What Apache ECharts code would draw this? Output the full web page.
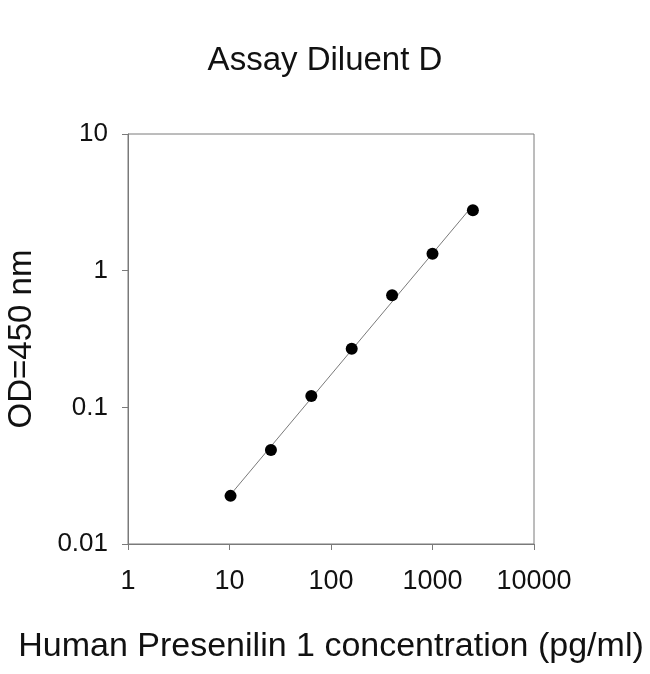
<!DOCTYPE html>
<html>
<head>
<meta charset="utf-8">
<script src="https://cdn.jsdelivr.net/npm/echarts@6/dist/echarts.min.js"></script>
<style>
  html, body { margin: 0; padding: 0; background: #fff; }
  #chart { width: 650px; height: 674px; }
</style>
</head>
<body>
<div id="chart"></div>
<script>
// concentration (pg/ml) and OD at 450 nm
var conc = [10.24, 25.6, 64, 160, 400, 1000, 2500];
var od = [0.0225, 0.0488, 0.121, 0.268, 0.662, 1.33, 2.77];
var xTicks = [1, 10, 100, 1000, 10000];
var yTicks = [0.01, 0.1, 1, 10];

// straight-line fit in log-log space
var lx = conc.map(Math.log10), ly = od.map(Math.log10);
var n = lx.length, mx = 0, my = 0;
for (var i = 0; i < n; i++) { mx += lx[i] / n; my += ly[i] / n; }
var sxy = 0, sxx = 0;
for (var i = 0; i < n; i++) { sxy += (lx[i] - mx) * (ly[i] - my); sxx += (lx[i] - mx) * (lx[i] - mx); }
var slope = sxy / sxx, icpt = my - slope * mx;
var fitLine = [conc[0], conc[n - 1]].map(function (x) {
    return [x, Math.pow(10, icpt + slope * Math.log10(x))];
});

var font = 'Liberation Sans, Arial, sans-serif';
var fmt = function (v) {
    var t = xTicks.concat(yTicks);
    for (var k = 0; k < t.length; k++) {
        if (Math.abs(v - t[k]) / t[k] < 1e-6) return String(t[k]);
    }
    return '';
};

var option = {
    backgroundColor: '#fff',
    animation: false,
    title: {
        text: 'Assay Diluent D',
        left: 'center',
        top: 39,
        textStyle: { fontFamily: font, fontSize: 33, fontWeight: 'normal', color: '#111' }
    },
    grid: {
        left: 128, right: 116, top: 134, bottom: 130,
        outerBoundsMode: 'none',
        containLabel: false,
        show: true, borderColor: '#7a7a7a', borderWidth: 1
    },
    xAxis: {
        type: 'log', logBase: 10, min: 1, max: 10000,
        name: 'Human Presenilin 1 concentration (pg/ml)',
        nameLocation: 'middle', nameGap: 86,
        nameTextStyle: { fontFamily: font, fontSize: 34, color: '#111' },
        axisLine: { lineStyle: { color: '#7a7a7a' } },
        axisTick: { show: true, length: 6, lineStyle: { color: '#7a7a7a' } },
        minorTick: { show: false },
        splitLine: { show: false },
        axisLabel: { fontFamily: font, fontSize: 27, color: '#111', margin: 24, formatter: fmt }
    },
    yAxis: {
        type: 'log', logBase: 10, min: 0.01, max: 10,
        name: 'OD=450 nm',
        nameLocation: 'middle', nameGap: 90,
        nameTextStyle: { fontFamily: font, fontSize: 33, color: '#111' },
        axisLine: { show: true, lineStyle: { color: '#7a7a7a' } },
        axisTick: { show: true, length: 6, lineStyle: { color: '#7a7a7a' } },
        minorTick: { show: false },
        splitLine: { show: false },
        axisLabel: { fontFamily: font, fontSize: 26, color: '#111', margin: 20, formatter: fmt }
    },
    series: [
        {
            type: 'line',
            data: fitLine,
            symbol: 'none',
            lineStyle: { color: '#7a7a7a', width: 1 },
            z: 1
        },
        {
            type: 'scatter',
            data: conc.map(function (c, i) { return [c, od[i]]; }),
            symbol: 'circle',
            symbolSize: 12,
            itemStyle: { color: '#000', opacity: 1 },
            z: 2
        }
    ]
};
var myChart = echarts.init(document.getElementById('chart'));
myChart.setOption(option);
</script>
</body>
</html>
